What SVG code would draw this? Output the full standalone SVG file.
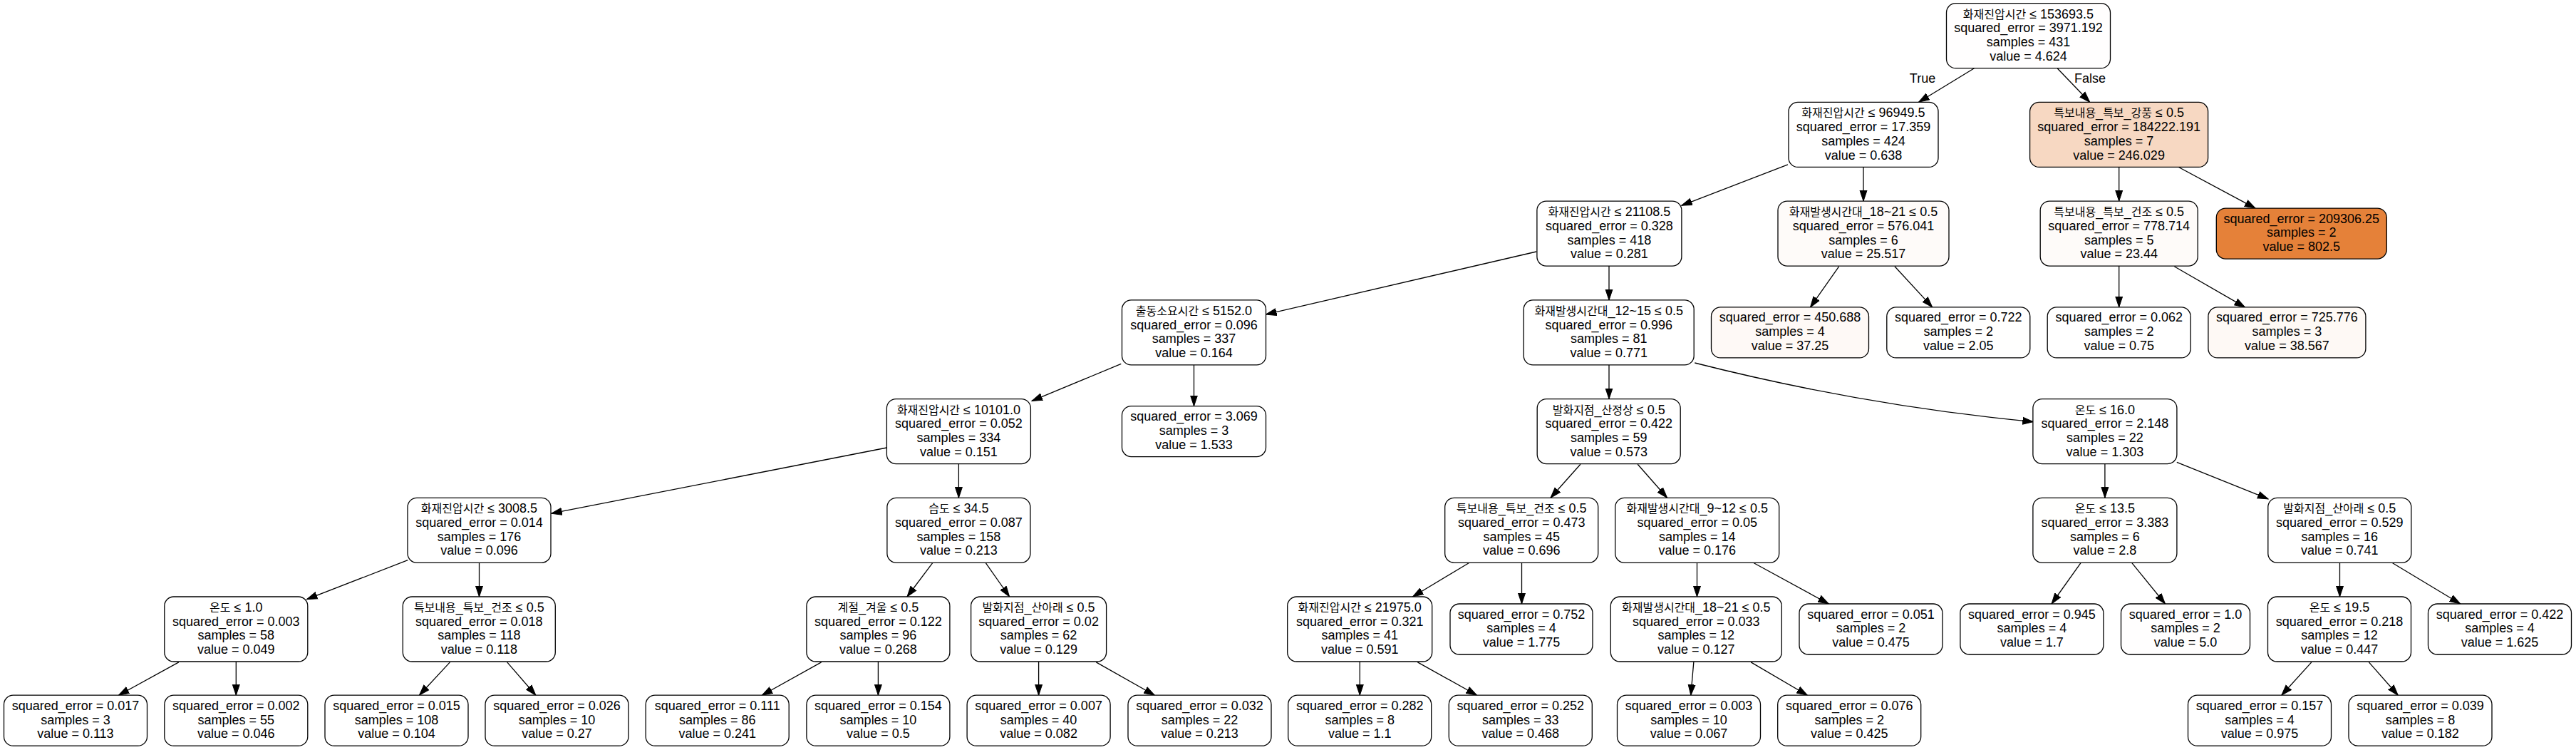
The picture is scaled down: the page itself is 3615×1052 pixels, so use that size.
<svg xmlns="http://www.w3.org/2000/svg" width="3615" height="1052" viewBox="0 0 3615 1052">
<style>
.box{stroke:#000;stroke-width:1.3}
text{font-family:"Liberation Sans","Noto Sans CJK KR",sans-serif;font-size:18px;fill:#000;text-anchor:middle}
.k{font-family:"Noto Sans CJK KR","Liberation Sans",sans-serif;font-size:16px}
.edge path{fill:none;stroke:#000;stroke-width:1.3}
</style>
<defs>
<marker id="ah" markerUnits="userSpaceOnUse" markerWidth="16" markerHeight="12" viewBox="0 -6 16 12" refX="15" refY="0" orient="auto">
<path d="M0,-5 L15,0 L0,5 z" fill="#000" stroke="#000" stroke-width="1"/>
</marker>
</defs>
<rect width="3615" height="1052" fill="#fff"/>
<g id="edges" class="edge">
<path d="M2770.5,95.7 L2692.6,143.3" marker-end="url(#ah)"/>
<path d="M2887.3,96 L2932.7,143.3" marker-end="url(#ah)"/>
<text x="2698" y="116">True</text>
<text x="2933" y="116">False</text>
<path d="M2509,230.9 L2359.7,288.3" marker-end="url(#ah)"/>
<path d="M2615,234.3 L2615,282.1" marker-end="url(#ah)"/>
<path d="M2973.7,234.3 L2973.7,282.1" marker-end="url(#ah)"/>
<path d="M3057,234.3 L3165,292.1" marker-end="url(#ah)"/>
<path d="M2156,353 L1776.5,441" marker-end="url(#ah)"/>
<path d="M2258,373 L2258,420.9" marker-end="url(#ah)"/>
<path d="M2580.6,373.8 L2540.5,430.9" marker-end="url(#ah)"/>
<path d="M2659,373.8 L2711.7,430.9" marker-end="url(#ah)"/>
<path d="M2973.7,373 L2973.7,430.9" marker-end="url(#ah)"/>
<path d="M3051.3,373.8 L3150.5,430.9" marker-end="url(#ah)"/>
<path d="M1573.3,510.4 L1448,562.4" marker-end="url(#ah)"/>
<path d="M1675.5,511.9 L1675.5,569.6" marker-end="url(#ah)"/>
<path d="M2258,511.9 L2258,559.6" marker-end="url(#ah)"/>
<path d="M2378.3,509 C2536,549 2695,576.5 2853.3,591.7" marker-end="url(#ah)"/>
<path d="M1244.4,628 L773.7,720.2" marker-end="url(#ah)"/>
<path d="M1345.4,650.6 L1345.4,698.3" marker-end="url(#ah)"/>
<path d="M572.3,785.7 L430.5,840.6" marker-end="url(#ah)"/>
<path d="M672.5,789.3 L672.5,837" marker-end="url(#ah)"/>
<path d="M1308.7,789.7 L1273,837" marker-end="url(#ah)"/>
<path d="M1383.3,789.7 L1416.6,837" marker-end="url(#ah)"/>
<path d="M2217.9,651.3 L2176,698.3" marker-end="url(#ah)"/>
<path d="M2298.2,651.3 L2339.6,698.3" marker-end="url(#ah)"/>
<path d="M2953.9,650.6 L2953.9,698.3" marker-end="url(#ah)"/>
<path d="M3054.8,648.3 L3183.1,699.8" marker-end="url(#ah)"/>
<path d="M250.8,928.9 L166.4,975.2" marker-end="url(#ah)"/>
<path d="M331.3,928 L331.3,975.2" marker-end="url(#ah)"/>
<path d="M631.4,928.9 L588.4,975.2" marker-end="url(#ah)"/>
<path d="M711.7,928.9 L751.9,975.2" marker-end="url(#ah)"/>
<path d="M1152.6,928.9 L1069.3,975.2" marker-end="url(#ah)"/>
<path d="M1232.4,928 L1232.4,975.2" marker-end="url(#ah)"/>
<path d="M1457.6,928 L1457.6,975.2" marker-end="url(#ah)"/>
<path d="M1538.3,928.9 L1620.4,975.2" marker-end="url(#ah)"/>
<path d="M2061.2,789.7 L1982.5,837" marker-end="url(#ah)"/>
<path d="M2135.5,789.3 L2135.5,847" marker-end="url(#ah)"/>
<path d="M2381.5,789.3 L2381.5,837" marker-end="url(#ah)"/>
<path d="M2461.3,789.7 L2566.3,847" marker-end="url(#ah)"/>
<path d="M1908.3,928 L1908.3,975.2" marker-end="url(#ah)"/>
<path d="M1989.4,928.9 L2072.6,975.2" marker-end="url(#ah)"/>
<path d="M2376.9,928 L2372.8,975.2" marker-end="url(#ah)"/>
<path d="M2457.2,928.9 L2536.4,975.2" marker-end="url(#ah)"/>
<path d="M2920,789.7 L2879.1,847" marker-end="url(#ah)"/>
<path d="M2991.8,789.7 L3038.5,847" marker-end="url(#ah)"/>
<path d="M3283.5,789.3 L3283.5,837" marker-end="url(#ah)"/>
<path d="M3357.6,789.7 L3452.7,847" marker-end="url(#ah)"/>
<path d="M3243.8,928.9 L3201.8,975.2" marker-end="url(#ah)"/>
<path d="M3324.4,928.9 L3365.3,975.2" marker-end="url(#ah)"/>
</g>
<g id="n0"><rect class="box" x="2731.5" y="4.7" width="230" height="91" rx="13" fill="#fffefe"/><text x="2846.5" y="25.7"><tspan class="k">화재진압시간</tspan> ≤ 153693.5<tspan x="2846.5" dy="19.7">squared_error = 3971.192</tspan><tspan x="2846.5" dy="19.7">samples = 431</tspan><tspan x="2846.5" dy="19.7">value = 4.624</tspan></text></g>
<g id="n1"><rect class="box" x="2510" y="143.4" width="210" height="91" rx="13" fill="#fff"/><text x="2615" y="164.4"><tspan class="k">화재진압시간</tspan> ≤ 96949.5<tspan x="2615" dy="19.7">squared_error = 17.359</tspan><tspan x="2615" dy="19.7">samples = 424</tspan><tspan x="2615" dy="19.7">value = 0.638</tspan></text></g>
<g id="n44"><rect class="box" x="2848.6" y="143.4" width="250" height="91" rx="13" fill="#f7d8c2"/><text x="2973.6" y="164.4"><tspan class="k">특보내용</tspan>_<tspan class="k">특보</tspan>_<tspan class="k">강풍</tspan> ≤ 0.5<tspan x="2973.6" dy="19.7">squared_error = 184222.191</tspan><tspan x="2973.6" dy="19.7">samples = 7</tspan><tspan x="2973.6" dy="19.7">value = 246.029</tspan></text></g>
<g id="n2"><rect class="box" x="2156.9" y="282.1" width="203" height="91" rx="13" fill="#fff"/><text x="2258.4" y="303.1"><tspan class="k">화재진압시간</tspan> ≤ 21108.5<tspan x="2258.4" dy="19.7">squared_error = 0.328</tspan><tspan x="2258.4" dy="19.7">samples = 418</tspan><tspan x="2258.4" dy="19.7">value = 0.281</tspan></text></g>
<g id="n41"><rect class="box" x="2495" y="282.1" width="240" height="91" rx="13" fill="#fefbf9"/><text x="2615" y="303.1"><tspan class="k">화재발생시간대</tspan>_18~21 ≤ 0.5<tspan x="2615" dy="19.7">squared_error = 576.041</tspan><tspan x="2615" dy="19.7">samples = 6</tspan><tspan x="2615" dy="19.7">value = 25.517</tspan></text></g>
<g id="n45"><rect class="box" x="2863.2" y="282.1" width="221" height="91" rx="13" fill="#fefbf9"/><text x="2973.7" y="303.1"><tspan class="k">특보내용</tspan>_<tspan class="k">특보</tspan>_<tspan class="k">건조</tspan> ≤ 0.5<tspan x="2973.7" dy="19.7">squared_error = 778.714</tspan><tspan x="2973.7" dy="19.7">samples = 5</tspan><tspan x="2973.7" dy="19.7">value = 23.44</tspan></text></g>
<g id="n48"><rect class="box" x="3110.3" y="292.1" width="239" height="71" rx="13" fill="#e58139"/><text x="3229.8" y="312.6">squared_error = 209306.25<tspan x="3229.8" dy="19.8">samples = 2</tspan><tspan x="3229.8" dy="19.8">value = 802.5</tspan></text></g>
<g id="n3"><rect class="box" x="1574.5" y="420.9" width="202" height="91" rx="13" fill="#fff"/><text x="1675.5" y="441.9"><tspan class="k">출동소요시간</tspan> ≤ 5152.0<tspan x="1675.5" dy="19.7">squared_error = 0.096</tspan><tspan x="1675.5" dy="19.7">samples = 337</tspan><tspan x="1675.5" dy="19.7">value = 0.164</tspan></text></g>
<g id="n20"><rect class="box" x="2138.2" y="420.9" width="239" height="91" rx="13" fill="#fff"/><text x="2257.7" y="441.9"><tspan class="k">화재발생시간대</tspan>_12~15 ≤ 0.5<tspan x="2257.7" dy="19.7">squared_error = 0.996</tspan><tspan x="2257.7" dy="19.7">samples = 81</tspan><tspan x="2257.7" dy="19.7">value = 0.771</tspan></text></g>
<g id="n42"><rect class="box" x="2401.5" y="430.9" width="221" height="71" rx="13" fill="#fef9f6"/><text x="2512" y="451.4">squared_error = 450.688<tspan x="2512" dy="19.8">samples = 4</tspan><tspan x="2512" dy="19.8">value = 37.25</tspan></text></g>
<g id="n43"><rect class="box" x="2647.8" y="430.9" width="201" height="71" rx="13" fill="#fffffe"/><text x="2748.3" y="451.4">squared_error = 0.722<tspan x="2748.3" dy="19.8">samples = 2</tspan><tspan x="2748.3" dy="19.8">value = 2.05</tspan></text></g>
<g id="n46"><rect class="box" x="2873.2" y="430.9" width="201" height="71" rx="13" fill="#fff"/><text x="2973.7" y="451.4">squared_error = 0.062<tspan x="2973.7" dy="19.8">samples = 2</tspan><tspan x="2973.7" dy="19.8">value = 0.75</tspan></text></g>
<g id="n47"><rect class="box" x="3098.9" y="430.9" width="221" height="71" rx="13" fill="#fef9f5"/><text x="3209.4" y="451.4">squared_error = 725.776<tspan x="3209.4" dy="19.8">samples = 3</tspan><tspan x="3209.4" dy="19.8">value = 38.567</tspan></text></g>
<g id="n4"><rect class="box" x="1244.4" y="559.6" width="202" height="91" rx="13" fill="#fff"/><text x="1345.4" y="580.6"><tspan class="k">화재진압시간</tspan> ≤ 10101.0<tspan x="1345.4" dy="19.7">squared_error = 0.052</tspan><tspan x="1345.4" dy="19.7">samples = 334</tspan><tspan x="1345.4" dy="19.7">value = 0.151</tspan></text></g>
<g id="n19"><rect class="box" x="1574.5" y="569.6" width="202" height="71" rx="13" fill="#fff"/><text x="1675.5" y="590.1">squared_error = 3.069<tspan x="1675.5" dy="19.8">samples = 3</tspan><tspan x="1675.5" dy="19.8">value = 1.533</tspan></text></g>
<g id="n21"><rect class="box" x="2157.2" y="559.6" width="201" height="91" rx="13" fill="#fff"/><text x="2257.7" y="580.6"><tspan class="k">발화지점</tspan>_<tspan class="k">산정상</tspan> ≤ 0.5<tspan x="2257.7" dy="19.7">squared_error = 0.422</tspan><tspan x="2257.7" dy="19.7">samples = 59</tspan><tspan x="2257.7" dy="19.7">value = 0.573</tspan></text></g>
<g id="n32"><rect class="box" x="2852.9" y="559.6" width="202" height="91" rx="13" fill="#fff"/><text x="2953.9" y="580.6"><tspan class="k">온도</tspan> ≤ 16.0<tspan x="2953.9" dy="19.7">squared_error = 2.148</tspan><tspan x="2953.9" dy="19.7">samples = 22</tspan><tspan x="2953.9" dy="19.7">value = 1.303</tspan></text></g>
<g id="n5"><rect class="box" x="572" y="698.3" width="201" height="91" rx="13" fill="#fff"/><text x="672.5" y="719.3"><tspan class="k">화재진압시간</tspan> ≤ 3008.5<tspan x="672.5" dy="19.7">squared_error = 0.014</tspan><tspan x="672.5" dy="19.7">samples = 176</tspan><tspan x="672.5" dy="19.7">value = 0.096</tspan></text></g>
<g id="n12"><rect class="box" x="1244.9" y="698.3" width="201" height="91" rx="13" fill="#fff"/><text x="1345.4" y="719.3"><tspan class="k">습도</tspan> ≤ 34.5<tspan x="1345.4" dy="19.7">squared_error = 0.087</tspan><tspan x="1345.4" dy="19.7">samples = 158</tspan><tspan x="1345.4" dy="19.7">value = 0.213</tspan></text></g>
<g id="n22"><rect class="box" x="2027.7" y="698.3" width="215" height="91" rx="13" fill="#fff"/><text x="2135.2" y="719.3"><tspan class="k">특보내용</tspan>_<tspan class="k">특보</tspan>_<tspan class="k">건조</tspan> ≤ 0.5<tspan x="2135.2" dy="19.7">squared_error = 0.473</tspan><tspan x="2135.2" dy="19.7">samples = 45</tspan><tspan x="2135.2" dy="19.7">value = 0.696</tspan></text></g>
<g id="n27"><rect class="box" x="2266.7" y="698.3" width="230" height="91" rx="13" fill="#fff"/><text x="2381.7" y="719.3"><tspan class="k">화재발생시간대</tspan>_9~12 ≤ 0.5<tspan x="2381.7" dy="19.7">squared_error = 0.05</tspan><tspan x="2381.7" dy="19.7">samples = 14</tspan><tspan x="2381.7" dy="19.7">value = 0.176</tspan></text></g>
<g id="n33"><rect class="box" x="2852.9" y="698.3" width="202" height="91" rx="13" fill="#fffffe"/><text x="2953.9" y="719.3"><tspan class="k">온도</tspan> ≤ 13.5<tspan x="2953.9" dy="19.7">squared_error = 3.383</tspan><tspan x="2953.9" dy="19.7">samples = 6</tspan><tspan x="2953.9" dy="19.7">value = 2.8</tspan></text></g>
<g id="n36"><rect class="box" x="3182.8" y="698.3" width="201" height="91" rx="13" fill="#fff"/><text x="3283.3" y="719.3"><tspan class="k">발화지점</tspan>_<tspan class="k">산아래</tspan> ≤ 0.5<tspan x="3283.3" dy="19.7">squared_error = 0.529</tspan><tspan x="3283.3" dy="19.7">samples = 16</tspan><tspan x="3283.3" dy="19.7">value = 0.741</tspan></text></g>
<g id="n6"><rect class="box" x="230.8" y="837" width="201" height="91" rx="13" fill="#fff"/><text x="331.3" y="858"><tspan class="k">온도</tspan> ≤ 1.0<tspan x="331.3" dy="19.7">squared_error = 0.003</tspan><tspan x="331.3" dy="19.7">samples = 58</tspan><tspan x="331.3" dy="19.7">value = 0.049</tspan></text></g>
<g id="n9"><rect class="box" x="565.3" y="837" width="214" height="91" rx="13" fill="#fff"/><text x="672.3" y="858"><tspan class="k">특보내용</tspan>_<tspan class="k">특보</tspan>_<tspan class="k">건조</tspan> ≤ 0.5<tspan x="672.3" dy="19.7">squared_error = 0.018</tspan><tspan x="672.3" dy="19.7">samples = 118</tspan><tspan x="672.3" dy="19.7">value = 0.118</tspan></text></g>
<g id="n13"><rect class="box" x="1131.9" y="837" width="201" height="91" rx="13" fill="#fff"/><text x="1232.4" y="858"><tspan class="k">계절</tspan>_<tspan class="k">겨울</tspan> ≤ 0.5<tspan x="1232.4" dy="19.7">squared_error = 0.122</tspan><tspan x="1232.4" dy="19.7">samples = 96</tspan><tspan x="1232.4" dy="19.7">value = 0.268</tspan></text></g>
<g id="n16"><rect class="box" x="1362.6" y="837" width="190" height="91" rx="13" fill="#fff"/><text x="1457.6" y="858"><tspan class="k">발화지점</tspan>_<tspan class="k">산아래</tspan> ≤ 0.5<tspan x="1457.6" dy="19.7">squared_error = 0.02</tspan><tspan x="1457.6" dy="19.7">samples = 62</tspan><tspan x="1457.6" dy="19.7">value = 0.129</tspan></text></g>
<g id="n23"><rect class="box" x="1806.7" y="837" width="203" height="91" rx="13" fill="#fff"/><text x="1908.2" y="858"><tspan class="k">화재진압시간</tspan> ≤ 21975.0<tspan x="1908.2" dy="19.7">squared_error = 0.321</tspan><tspan x="1908.2" dy="19.7">samples = 41</tspan><tspan x="1908.2" dy="19.7">value = 0.591</tspan></text></g>
<g id="n26"><rect class="box" x="2035" y="847" width="200" height="71" rx="13" fill="#fff"/><text x="2135" y="867.5">squared_error = 0.752<tspan x="2135" dy="19.8">samples = 4</tspan><tspan x="2135" dy="19.8">value = 1.775</tspan></text></g>
<g id="n28"><rect class="box" x="2260.3" y="837" width="240" height="91" rx="13" fill="#fff"/><text x="2380.3" y="858"><tspan class="k">화재발생시간대</tspan>_18~21 ≤ 0.5<tspan x="2380.3" dy="19.7">squared_error = 0.033</tspan><tspan x="2380.3" dy="19.7">samples = 12</tspan><tspan x="2380.3" dy="19.7">value = 0.127</tspan></text></g>
<g id="n31"><rect class="box" x="2525" y="847" width="201" height="71" rx="13" fill="#fff"/><text x="2625.5" y="867.5">squared_error = 0.051<tspan x="2625.5" dy="19.8">samples = 2</tspan><tspan x="2625.5" dy="19.8">value = 0.475</tspan></text></g>
<g id="n34"><rect class="box" x="2750.9" y="847" width="201" height="71" rx="13" fill="#fff"/><text x="2851.4" y="867.5">squared_error = 0.945<tspan x="2851.4" dy="19.8">samples = 4</tspan><tspan x="2851.4" dy="19.8">value = 1.7</tspan></text></g>
<g id="n35"><rect class="box" x="2976.5" y="847" width="181" height="71" rx="13" fill="#fffefe"/><text x="3067" y="867.5">squared_error = 1.0<tspan x="3067" dy="19.8">samples = 2</tspan><tspan x="3067" dy="19.8">value = 5.0</tspan></text></g>
<g id="n37"><rect class="box" x="3182.5" y="837" width="201" height="91" rx="13" fill="#fff"/><text x="3283" y="858"><tspan class="k">온도</tspan> ≤ 19.5<tspan x="3283" dy="19.7">squared_error = 0.218</tspan><tspan x="3283" dy="19.7">samples = 12</tspan><tspan x="3283" dy="19.7">value = 0.447</tspan></text></g>
<g id="n40"><rect class="box" x="3407.5" y="847" width="201" height="71" rx="13" fill="#fff"/><text x="3508" y="867.5">squared_error = 0.422<tspan x="3508" dy="19.8">samples = 4</tspan><tspan x="3508" dy="19.8">value = 1.625</tspan></text></g>
<g id="n7"><rect class="box" x="5.5" y="975.2" width="201" height="71" rx="13" fill="#fff"/><text x="106" y="995.7">squared_error = 0.017<tspan x="106" dy="19.8">samples = 3</tspan><tspan x="106" dy="19.8">value = 0.113</tspan></text></g>
<g id="n8"><rect class="box" x="230.8" y="975.2" width="201" height="71" rx="13" fill="#fff"/><text x="331.3" y="995.7">squared_error = 0.002<tspan x="331.3" dy="19.8">samples = 55</tspan><tspan x="331.3" dy="19.8">value = 0.046</tspan></text></g>
<g id="n10"><rect class="box" x="456" y="975.2" width="201" height="71" rx="13" fill="#fff"/><text x="556.5" y="995.7">squared_error = 0.015<tspan x="556.5" dy="19.8">samples = 108</tspan><tspan x="556.5" dy="19.8">value = 0.104</tspan></text></g>
<g id="n11"><rect class="box" x="681" y="975.2" width="201" height="71" rx="13" fill="#fff"/><text x="781.5" y="995.7">squared_error = 0.026<tspan x="781.5" dy="19.8">samples = 10</tspan><tspan x="781.5" dy="19.8">value = 0.27</tspan></text></g>
<g id="n14"><rect class="box" x="906.2" y="975.2" width="201" height="71" rx="13" fill="#fff"/><text x="1006.7" y="995.7">squared_error = 0.111<tspan x="1006.7" dy="19.8">samples = 86</tspan><tspan x="1006.7" dy="19.8">value = 0.241</tspan></text></g>
<g id="n15"><rect class="box" x="1131.9" y="975.2" width="201" height="71" rx="13" fill="#fff"/><text x="1232.4" y="995.7">squared_error = 0.154<tspan x="1232.4" dy="19.8">samples = 10</tspan><tspan x="1232.4" dy="19.8">value = 0.5</tspan></text></g>
<g id="n17"><rect class="box" x="1357.1" y="975.2" width="201" height="71" rx="13" fill="#fff"/><text x="1457.6" y="995.7">squared_error = 0.007<tspan x="1457.6" dy="19.8">samples = 40</tspan><tspan x="1457.6" dy="19.8">value = 0.082</tspan></text></g>
<g id="n18"><rect class="box" x="1583" y="975.2" width="201" height="71" rx="13" fill="#fff"/><text x="1683.5" y="995.7">squared_error = 0.032<tspan x="1683.5" dy="19.8">samples = 22</tspan><tspan x="1683.5" dy="19.8">value = 0.213</tspan></text></g>
<g id="n24"><rect class="box" x="1807.7" y="975.2" width="201" height="71" rx="13" fill="#fff"/><text x="1908.2" y="995.7">squared_error = 0.282<tspan x="1908.2" dy="19.8">samples = 8</tspan><tspan x="1908.2" dy="19.8">value = 1.1</tspan></text></g>
<g id="n25"><rect class="box" x="2033.3" y="975.2" width="201" height="71" rx="13" fill="#fff"/><text x="2133.8" y="995.7">squared_error = 0.252<tspan x="2133.8" dy="19.8">samples = 33</tspan><tspan x="2133.8" dy="19.8">value = 0.468</tspan></text></g>
<g id="n29"><rect class="box" x="2269.5" y="975.2" width="201" height="71" rx="13" fill="#fff"/><text x="2370" y="995.7">squared_error = 0.003<tspan x="2370" dy="19.8">samples = 10</tspan><tspan x="2370" dy="19.8">value = 0.067</tspan></text></g>
<g id="n30"><rect class="box" x="2494.7" y="975.2" width="201" height="71" rx="13" fill="#fff"/><text x="2595.2" y="995.7">squared_error = 0.076<tspan x="2595.2" dy="19.8">samples = 2</tspan><tspan x="2595.2" dy="19.8">value = 0.425</tspan></text></g>
<g id="n38"><rect class="box" x="3070.5" y="975.2" width="201" height="71" rx="13" fill="#fff"/><text x="3171" y="995.7">squared_error = 0.157<tspan x="3171" dy="19.8">samples = 4</tspan><tspan x="3171" dy="19.8">value = 0.975</tspan></text></g>
<g id="n39"><rect class="box" x="3296" y="975.2" width="201" height="71" rx="13" fill="#fff"/><text x="3396.5" y="995.7">squared_error = 0.039<tspan x="3396.5" dy="19.8">samples = 8</tspan><tspan x="3396.5" dy="19.8">value = 0.182</tspan></text></g>
</svg>
